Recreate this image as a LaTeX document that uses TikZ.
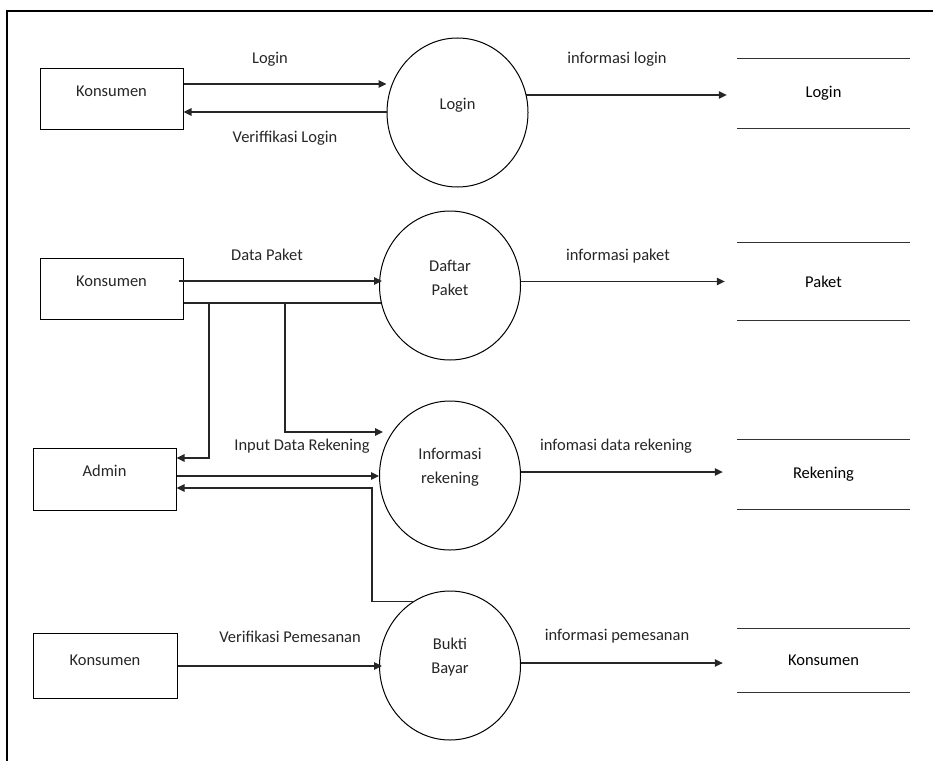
\documentclass[tikz,border=0pt]{standalone}
\usepackage{fontspec}
\setmainfont{Carlito}
\usetikzlibrary{shapes.geometric,arrows.meta}
\pgfdeclarelayer{bg}
\pgfsetlayers{bg,main}
\begin{document}
\begin{tikzpicture}[x=1pt,y=-1pt,
  font=\fontsize{16.5}{24}\selectfont,
  wire/.style={line width=1.2pt, draw=black!85},
  arr/.style={wire, -{Triangle[length=8pt,width=7.5pt]}},
  entity/.style={draw, line width=1pt, minimum width=143pt, minimum height=61pt, inner sep=0pt},
  proc/.style={ellipse, draw, line width=1pt, fill=white, minimum width=141pt, minimum height=149pt, inner sep=0pt},
  store/.style={minimum width=173pt, inner sep=0pt},
  storeline/.style={line width=1.2pt, draw=black!80},
  lbl/.style={inner sep=0pt, text=black!85}]

% page and outer frame
\useasboundingbox (0,0) rectangle (933,760);
\clip (0,0) rectangle (933,760);
\draw[line width=1.5pt] (7,11) rectangle (980,800);

% external entities
\node[entity, label={[lbl,yshift=7.5pt]center:Konsumen}] (k1) at (111.5,98.5) {};
\node[entity, label={[lbl,yshift=7.5pt]center:Konsumen}] (k2) at (111.5,288.5) {};
\node[entity, minimum height=62pt, label={[lbl,yshift=8pt]center:Admin}] (ad) at (104.5,479) {};
\node[entity, minimum width=144pt, minimum height=65pt, label={[lbl,yshift=5pt]center:Konsumen}] (k4) at (105,665.5) {};

% processes
\node[proc, label={[lbl,yshift=7.5pt]center:Login}] (lg) at (457.5,112.5) {};
\node[proc, label={[lbl,align=center,yshift=8pt]center:Daftar\\Paket}] (dp) at (450,285.5) {};
\node[proc, label={[lbl,align=center,yshift=8pt]center:Informasi\\rekening}] (ir) at (450,475.5) {};
\node[proc, label={[lbl,align=center,yshift=8.5pt]center:Bukti\\Bayar}] (bb) at (450,665.5) {};

% data stores
\node[store, minimum height=69pt] (s1) at (823.5,93.5) {Login};
\node[store, minimum height=77pt] (s2) at (823.5,281.5) {Paket};
\node[store, minimum height=69pt] (s3) at (823.5,474.5) {Rekening};
\node[store, minimum height=63pt] (s4) at (823.5,660.5) {Konsumen};
\foreach \s in {s1,s2,s3,s4}
  \draw[storeline] (\s.north west) -- (\s.north east) (\s.south west) -- (\s.south east);

% bend points
\coordinate (j1) at (209,303);
\coordinate (j2) at (285,303);
\coordinate (jr) at (372,488);

% flows leaving the processes (start hidden under the filled circles)
\begin{pgfonlayer}{bg}
  \draw[arr] (lg.center |- 0,95) -- ([xshift=-10pt]s1.west |- 0,95);
  \draw[arr] (dp.center |- s2.west) -- ([xshift=-12pt]s2.west);
  \draw[arr] (ir.center |- 0,472) -- ([xshift=-14pt]s3.west |- 0,472);
  \draw[arr] (bb.center |- 0,663) -- ([xshift=-14pt]s4.west |- 0,663);
  \draw[wire] (k2.east |- j1) -- (dp.center |- j1);
\end{pgfonlayer}

% flows into the processes and back to the entities
\draw[arr] (k1.east |- 0,84) -- (lg.west |- 0,84);
\draw[arr] (lg.west |- 0,112) -- (k1.east |- 0,112);
\draw[arr] ([xshift=-5pt]k2.east |- 0,281) -- ([xshift=3pt]dp.west |- 0,281);
\draw[arr] (j1) |- (ad.east |- 0,458);
\draw[arr] (j2) |- ([xshift=4pt]ir.west |- 0,432);
\draw[arr] (ad.east |- 0,476) -- (ir.west |- 0,476);
\draw[arr] (bb.120) -| (jr) -- (ad.east |- jr);
\draw[arr] (k4.east |- 0,666) -- ([xshift=3pt]bb.west |- 0,666);

% flow labels
\node[lbl] (fl1) at (270,59) {Login};
\node[lbl] (fl2) at (285,138) {Veriffikasi Login};
\node[lbl] (fl3) at (617,59) {informasi login};
\node[lbl] (fl4) at (267,255) {Data Paket};
\node[lbl] (fl5) at (618,256) {informasi paket};
\node[lbl] (fl6) at (302,446) {Input Data Rekening};
\node[lbl] (fl7) at (616,446) {infomasi data rekening};
\node[lbl] (fl8) at (290,637) {Verifikasi Pemesanan};
\node[lbl] (fl9) at (617,636) {informasi pemesanan};
\end{tikzpicture}
\end{document}
